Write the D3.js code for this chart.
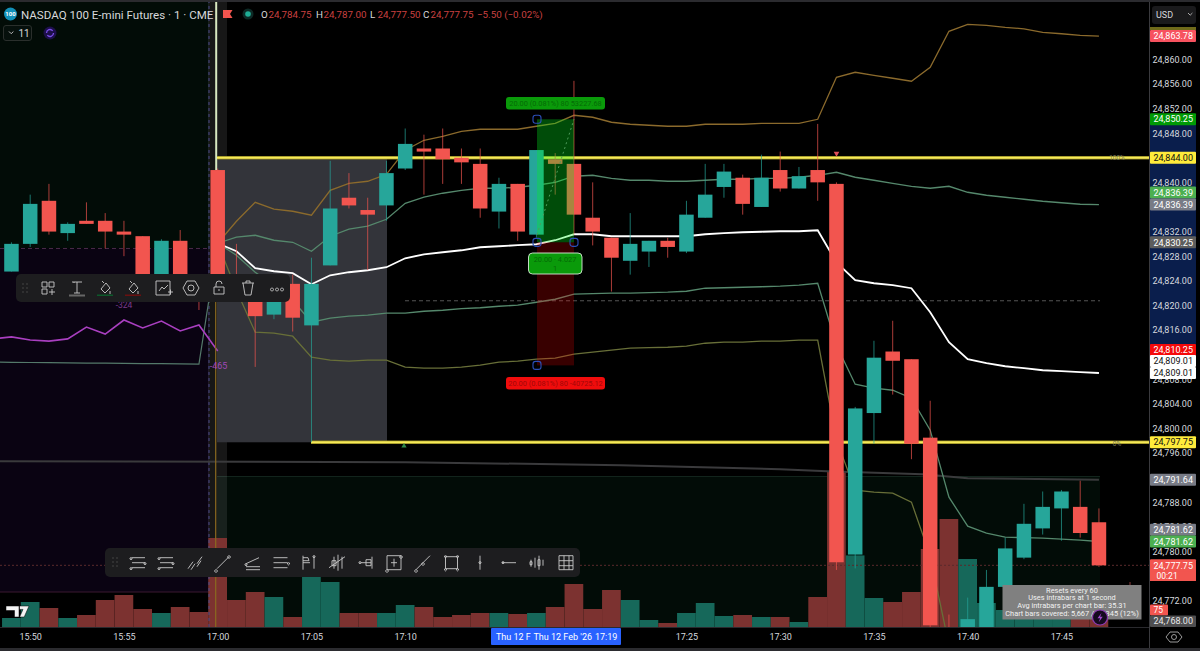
<!DOCTYPE html>
<html><head><meta charset="utf-8">
<script src="https://cdn.jsdelivr.net/npm/d3@7/dist/d3.min.js"></script>
<style>html,body{margin:0;padding:0;background:#000;overflow:hidden}text{font-family:Roboto,"Liberation Sans",sans-serif}</style>
</head><body><svg id="c" width="1200" height="651"></svg>
<script>
const firstBar=-11;
const opens=[24825.5,24830,24837,24831.75,24833.75,24833.75,24832,24831.25,24824.75,24830.5,24824.5,24842,24824.75,24822.5,24818.5,24823.5,24816.75,24826.5,24837.5,24835.5,24836.25,24842.25,24845.5,24845.5,24844,24843,24835.25,24839.75,24831.5,24843.75,24843,24834.25,24831,24827.25,24828.75,24830.5,24828.75,24834.25,24839.25,24840.75,24836,24842,24839,24842,24839.75,24779.5,24802.5,24812.5,24811.25,24798.5,24766.75,24766,24767,24774.25,24779,24783.75,24787,24787.25,24784.75];
const highs=[24830.25,24838,24839.75,24833.5,24836.75,24835,24833.75,24831.25,24830.75,24832.25,24825,24842.25,24830,24823.5,24823,24825,24827.75,24843.5,24841.5,24837.5,24843.5,24848.75,24847.75,24848.75,24845.5,24845.5,24840.75,24839.75,24845.25,24844.75,24856.5,24840,24831,24835,24830.5,24831,24837,24843,24843,24841.25,24844.5,24845,24842.5,24849.5,24840,24803.5,24814.25,24817.5,24811.25,24804.5,24769.75,24772.5,24777,24782.25,24787.75,24789.75,24790,24791.5,24787];
const lows=[24825.5,24829.5,24831.5,24830.5,24833.25,24829.25,24828,24823.5,24824.5,24823.75,24819.25,24821.5,24821,24810,24817.75,24815.75,24797.75,24826.5,24835.75,24825.75,24833.75,24842,24838,24839.75,24839.75,24834.25,24832.5,24830.5,24831,24838,24831.5,24829.75,24822.25,24825,24826.25,24827.75,24828.5,24834.25,24837.5,24834.75,24836,24838.5,24839,24837,24777,24777.25,24797.5,24805.5,24795,24767,24764,24765,24766,24774,24778.75,24782.75,24781.75,24782.25,24777.5];
const closes=[24830,24836.5,24832,24833.25,24833.25,24832,24831.5,24824,24830.5,24824,24821.75,24821.75,24821.5,24818.25,24822.5,24818,24823.5,24835.75,24836.25,24834.75,24841.5,24846.25,24845,24843.75,24843.25,24835.75,24839.75,24832,24845.25,24843,24834.75,24832,24827.75,24830,24830.5,24829.5,24834.75,24838,24841.75,24836.5,24840.75,24839,24841,24840,24778.25,24803.25,24811.5,24811,24797.5,24768,24765,24769,24774.25,24780.5,24784.5,24787.25,24789.75,24783,24777.75];
const volumes=[90,250,190,90,120,270,320,180,140,200,150,890,270,350,300,100,520,450,140,140,140,220,200,100,120,140,140,130,140,200,430,180,370,270,70,40,140,240,110,120,100,100,50,300,1550,716,290,250,350,780,1080,680,240,170,200,230,210,310,200];
const vwap=[24830.10,24828.80,24826.04,24825.55,24825.23,24823.44,24824.90,24825.39,24825.71,24826.20,24827.66,24828.31,24828.64,24828.96,24829.45,24829.61,24829.78,24829.94,24830.59,24831.56,24831.56,24831.24,24831.24,24831.24,24831.24,24831.24,24831.56,24831.73,24831.89,24831.97,24832.05,24832.05,24832.21,24827.0,24824.09,24823.6,24823.28,24822.79,24818.89,24814.02,24811.25,24810.6,24810.11,24809.79,24809.46,24809.3,24809.14,24809.01];
const upper2=[24830.10,24833.68,24836.76,24835.63,24835.3,24834.65,24838.71,24839.85,24840.18,24841.31,24845.21,24846.84,24847.49,24848.30,24848.63,24848.63,24848.63,24849.12,24849.6,24850.9,24850.58,24849.77,24849.44,24849.28,24849.12,24849.12,24849.44,24849.44,24849.44,24849.6,24849.6,24849.6,24850.25,24857.08,24857.89,24857.4,24856.92,24856.43,24858.70,24864.55,24865.69,24865.53,24865.2,24864.96,24864.39,24864.15,24863.9,24863.78];
const upper1=[24830.10,24831.08,24831.4,24830.59,24830.26,24828.8,24831.24,24832.38,24832.87,24834.0,24836.6,24837.58,24838.23,24838.71,24839.04,24839.04,24839.2,24839.53,24840.01,24840.99,24841.15,24840.66,24840.34,24840.34,24840.18,24840.18,24840.34,24840.5,24840.5,24840.66,24840.66,24840.83,24841.15,24841.64,24840.83,24840.34,24839.85,24839.36,24839.04,24839.36,24838.39,24837.9,24837.58,24837.25,24836.93,24836.68,24836.44,24836.39];
const lower1=[24830.10,24828.15,24825.39,24823.28,24820.84,24817.27,24817.92,24818.24,24818.41,24818.73,24818.73,24819.05,24819.21,24819.46,24819.62,24819.86,24820.03,24820.51,24821.0,24821.82,24821.9,24821.98,24821.98,24822.06,24822.14,24822.3,24822.79,24822.87,24822.95,24823.03,24823.12,24823.28,24823.6,24813.53,24807.19,24806.54,24806.21,24804.91,24799.72,24788.83,24784.11,24782.98,24782.33,24782.25,24782.17,24782.0,24781.84,24781.62];
const lower2=[24830.10,24822.47,24815.64,24815.48,24814.99,24811.58,24811.09,24810.93,24811.09,24811.09,24809.95,24809.79,24809.79,24809.95,24810.28,24810.77,24810.93,24811.25,24811.42,24812.07,24812.39,24812.72,24813.04,24813.12,24813.2,24813.37,24813.85,24814.02,24814.02,24814.18,24814.18,24814.34,24814.34,24798.09,24789.97,24789.64,24789.48,24788.02,24779.24,24764.78,24759.09];
const slowIdx=[-12,10,21.5,30,32.5,37.6,40,47];
const slowLine=[24794.68,24794.51,24794.03,24793.38,24793.05,24792.57,24791.91,24791.64];
const prevBand=[24810.77,24810.75,24810.72,24810.7,24810.65,24810.62,24810.6,24810.58,24810.55,24810.52,24810.48,24810.44,24830.10];
const cvd=[-410,-401,-415,-420,-410,-356,-388,-324,-360,-329,-374,-347,-465];
const priceTicks=[24772,24780,24784,24788,24796,24800,24804,24808,24816,24820,24824,24828,24832,24840,24848,24852,24856,24860];
const timeIdx=[-10,-5,0,5,10,25,30,35,40,45];
const timeLabels=["15:50","15:55","17:00","17:05","17:10","17:25","17:30","17:35","17:40","17:45"];
const tagPrices=[24863.78,24850.25,24844,24836.39,24836.39,24830.25,24810.25,24809.01,24809.01,24797.75,24791.64,24781.62,24781.62,24777.75];
const tagShift=[0,0,0,-12,0,0,-15.3,-12,0,0,0,-11.7,0,0];
const tagFill=["#f7525f","#009a05","#ffeb3b","#4caf50","#787b86","#5d5d5d","#f50a0a","#ffffff","#ffffff","#ffeb3b","#787b86","#787b86","#4caf50","#f2554f"];
const tagInk=["#fff","#fff","#111","#fff","#fff","#fff","#fff","#111","#111","#111","#fff","#fff","#fff","#fff"];
const entryPrice=24830.25,targetPrice=24850.25,stopPrice=24810.25,highLevel=24844,lowLevel=24797.75,midDash=24820.75,sessionOpen=24829.25;
const infoLines=["Resets every 60","Uses intrabars at 1 second","Avg intrabars per chart bar: 35.31","Chart bars covered: 5,667 / 46,345 (12%)"];

const svg=d3.select("#c");
const x=d3.scaleLinear().domain([0,45]).range([217.7,1061.45]);
const y=d3.scaleLinear().domain([24860,24772]).range([59.3,600.7]);
const cvdY=d3.scaleLinear().domain([-324,-465]).range([320,351]);
const volY=d3.scaleLinear().domain([0,1000]).range([627,527]);
const bw=14.5;
const fmt=d3.format(",.2f");
const teal="#26a69a",red="#f2554f";
const bars=opens.map((o,i)=>({i:i+firstBar,o,h:highs[i],l:lows[i],c:closes[i],v:volumes[i]}));

const defs=svg.append("defs");
defs.append("clipPath").attr("id","pane").append("rect").attr("x",0).attr("y",2).attr("width",1149).attr("height",625);
svg.append("rect").attr("width",1200).attr("height",651).attr("fill","#000");
const pane=svg.append("g").attr("clip-path","url(#pane)");
// session backdrops
pane.append("rect").attr("x",0).attr("y",0).attr("width",209).attr("height",y(sessionOpen)).attr("fill","#020c07");
pane.append("rect").attr("x",0).attr("y",y(sessionOpen)).attr("width",209).attr("height",592-y(sessionOpen)).attr("fill","#0a0312");
pane.append("rect").attr("x",217).attr("y",476).attr("width",883).attr("height",151).attr("fill","#020c07");
pane.append("line").attr("x1",217).attr("x2",1100).attr("y1",476.5).attr("y2",476.5).attr("stroke","#12241c");
pane.append("line").attr("x1",0).attr("x2",209).attr("y1",592).attr("y2",592).attr("stroke","#3a1830");
pane.append("line").attr("x1",0).attr("x2",209).attr("y1",y(sessionOpen)).attr("y2",y(sessionOpen)).attr("stroke","#4a2a4a").attr("stroke-dasharray","4 3");
// hover column
pane.append("rect").attr("x",208).attr("y",0).attr("width",19).attr("height",627).attr("fill","rgba(255,255,255,.09)");
// gray box
pane.append("rect").attr("x",217).attr("y",y(highLevel)).attr("width",170).attr("height",y(lowLevel)-y(highLevel)).attr("fill","#33343a");
// volume
pane.append("g").selectAll("rect").data(bars).join("rect")
 .attr("x",d=>x(d.i)-9.4).attr("width",18.7).attr("y",d=>volY(d.v)).attr("height",d=>627-volY(d.v))
 .attr("fill",d=>d.c>=d.o?"#16685a":"#7c3230");
// dashed rules
pane.append("line").attr("x1",405).attr("x2",1100).attr("y1",y(midDash)).attr("y2",y(midDash)).attr("stroke","#555").attr("stroke-dasharray","4 3");
pane.append("line").attr("x1",0).attr("x2",1149).attr("y1",y(24777.75)).attr("y2",y(24777.75)).attr("stroke","#5a2a2c").attr("stroke-dasharray","2 2");
pane.append("line").attr("x1",209).attr("x2",209).attr("y1",0).attr("y2",627).attr("stroke","#4a4a8a").attr("stroke-dasharray","3 3");
// lines
const ln=(arr,start=0)=>d3.line().x((d,i)=>x(i+start)).y(d=>y(d))(arr);
const slow=d3.line().x((d,i)=>x(slowIdx[i])).y(d=>y(d));
pane.append("path").attr("d",slow(slowLine)).attr("fill","none").attr("stroke","#3a3a3c").attr("stroke-width",2);
pane.append("path").attr("d",ln(prevBand,-12)).attr("fill","none").attr("stroke","#54796a").attr("stroke-width",1.2);
pane.append("path").attr("d",d3.line().x((d,i)=>x(i-12)).y(d=>cvdY(d))(cvd)).attr("fill","none").attr("stroke","#a93fc0").attr("stroke-width",1.6);
pane.append("line").attr("x1",x(0)-2).attr("x2",x(0)-2).attr("y1",240).attr("y2",627).attr("stroke","#8a6a20").attr("stroke-width",1.2);
[[upper2,"#8b6a2c"],[upper1,"#55886c"],[lower1,"#55886c"],[lower2,"#686f38"]].forEach(([a,c])=>pane.append("path").attr("d",ln(a)).attr("fill","none").attr("stroke",c).attr("stroke-width",1.3));
pane.append("path").attr("d",ln(vwap)).attr("fill","none").attr("stroke","#fff").attr("stroke-width",1.8);
pane.append("line").attr("x1",x(0)-1.5).attr("x2",x(0)-1.5).attr("y1",2).attr("y2",170).attr("stroke","#d8e8c0").attr("stroke-width",2);
// levels
[[highLevel,217],[lowLevel,311]].forEach(([p,s])=>{
 pane.append("line").attr("x1",s).attr("x2",1149).attr("y1",y(p)).attr("y2",y(p)).attr("stroke","#8f8420").attr("stroke-width",3.4);
 pane.append("line").attr("x1",s).attr("x2",1149).attr("y1",y(p)).attr("y2",y(p)).attr("stroke","#f6ea58").attr("stroke-width",1.9);
});
// candles
const cg=pane.append("g");
cg.selectAll("line").data(bars).join("line").attr("x1",d=>x(d.i)).attr("x2",d=>x(d.i)).attr("y1",d=>y(d.h)).attr("y2",d=>y(d.l)).attr("stroke",d=>d.c>=d.o?teal:red).attr("stroke-width",1).attr("opacity",.7);
cg.selectAll("rect").data(bars).join("rect").attr("x",d=>x(d.i)-bw/2).attr("width",bw).attr("y",d=>y(Math.max(d.o,d.c))).attr("height",d=>Math.max(1.2,Math.abs(y(d.o)-y(d.c)))).attr("fill",d=>d.c>=d.o?teal:red);
// position box
const bx0=537,bx1=574;
pane.append("rect").attr("x",bx0).attr("width",bx1-bx0).attr("y",y(targetPrice)).attr("height",y(entryPrice)-y(targetPrice)).attr("fill","rgba(0,245,30,.31)");
pane.append("rect").attr("x",bx0).attr("width",bx1-bx0).attr("y",y(entryPrice)).attr("height",y(stopPrice)-y(entryPrice)).attr("fill","rgba(255,0,0,.22)");
pane.append("line").attr("x1",bx0).attr("x2",bx1).attr("y1",y(24831.5)).attr("y2",y(targetPrice)).attr("stroke","#4d9a5a").attr("stroke-dasharray","2 3");
const pill=(px,py,w,h,fill,txt,ink,fs,r=3)=>{pane.append("rect").attr("x",px).attr("y",py).attr("width",w).attr("height",h).attr("rx",r).attr("fill",fill);
 pane.append("text").attr("x",px+w/2).attr("y",py+h/2+2.5).attr("text-anchor","middle").attr("font-size",fs).attr("fill",ink).text(txt);};
pill(506,97,99,12.5,"#0a9a0a","20.00 (0.081%) 80 53227.68","#056a06",7.4);
pill(506,377,99,12.5,"#f00c0c","20.00 (0.081%) 80 -40725.12","#a00808",7.4);
pane.append("rect").attr("x",528.5).attr("y",253).attr("width",53.5).attr("height",21).attr("rx",4).attr("fill","#0a9a0a").attr("stroke","#d8e8d8").attr("stroke-width",.9);
pane.append("text").attr("x",555).attr("y",262).attr("text-anchor","middle").attr("font-size",7.4).attr("fill","#056a06").text("20.00 · 4.027");
pane.append("text").attr("x",555).attr("y",270.5).attr("text-anchor","middle").attr("font-size",7.4).attr("fill","#056a06").text("1");
[[bx0,targetPrice],[bx0,entryPrice],[bx1,entryPrice],[bx0,stopPrice]].forEach(([hx,p])=>pane.append("rect").attr("x",hx-4).attr("y",y(p)-4).attr("width",8).attr("height",8).attr("rx",2.5).attr("fill","none").attr("stroke","#2c4fb8").attr("stroke-width",1.1));
// markers
pane.append("path").attr("d",d3.symbol(d3.symbolTriangle,14)()).attr("transform",`translate(836.5,153.5) rotate(180)`).attr("fill","#e0505a");
pane.append("path").attr("d",d3.symbol(d3.symbolTriangle,12)()).attr("transform",`translate(404,446)`).attr("fill","#2f8a4a");
pane.append("text").attr("x",124).attr("y",308).attr("text-anchor","middle").attr("font-size",8.5).attr("fill","#7a3a8a").text("-324");
pane.append("text").attr("x",218.5).attr("y",369).attr("text-anchor","middle").attr("font-size",9).attr("fill","#a048b8").text("-465");
pane.append("text").attr("x",1117).attr("y",160).attr("text-anchor","middle").attr("font-size",6.5).attr("fill","#7a7a58").text("100%");
pane.append("text").attr("x",1117).attr("y",445.5).attr("text-anchor","middle").attr("font-size",6.5).attr("fill","#7a7a58").text("0%");
pane.append("line").attr("x1",1130).attr("x2",1130).attr("y1",582).attr("y2",587).attr("stroke","#8a3a3a");

// info box
svg.append("rect").attr("x",1002.5).attr("y",585).attr("width",139).attr("height",34.5).attr("fill","#808080");
infoLines.forEach((t,i)=>svg.append("text").attr("x",1072).attr("y",592.5+i*7.7).attr("text-anchor","middle").attr("font-size",7.4).attr("fill","#f2f2f2").text(t));
svg.append("circle").attr("cx",1100).attr("cy",617.5).attr("r",7.5).attr("fill","#140a1e").attr("stroke","#8a3ab0").attr("stroke-width",1.2);
svg.append("path").attr("d","M1101.5 613l-4 5.2h2.6l-1.4 4 4-5.4h-2.6z").attr("fill","#a24ad0");
// TV logo
svg.append("path").attr("d","M6 606h13v11h-4.5v-6.5H6zM19.5 606h9.5l-4.8 11h-4.6l3.4-7.6h-3.5z").attr("fill","#f4f4f4").attr("stroke","#000").attr("stroke-width",.5);

// toolbars
const stroke="#c9c9c9";
const icon=(g,cx,cy,d)=>g.append("path").attr("transform",`translate(${cx},${cy})`).attr("d",d).attr("fill","none").attr("stroke",stroke).attr("stroke-width",.9);
const tb1=svg.append("g");
tb1.append("rect").attr("x",16).attr("y",274).attr("width",274).attr("height",28).attr("rx",5).attr("fill","#1d1d1f");
d3.range(3).forEach(r=>[0,1].forEach(c=>tb1.append("circle").attr("cx",23+c*4).attr("cy",284+r*4).attr("r",.7).attr("fill","#555")));
const icons1=[[48,"M-6-6h5v5h-5zM1-6h5v5h-5zM-6 1h5v5h-5zM1 4h6M4 1v6"],[77,"M-5-6H5M0-6V5M-3-6V-5M-3 5H3"],[105,"M-4 1L1-5L5 0L0 5ZM-1-5L-3-7M5 3v3"],[133,"M-4 1L1-5L5 0L0 5ZM-1-5L-3-7M5 3v3"],[163,"M-7-7H7V7H-7ZM-4 3L-1-1L1 1L5-3M5 4h5M7.5 1.5v5"],[191,"M-4-7H4L8 0L4 7H-4L-8 0ZM3 0A3 3 0 1 1-3 0A3 3 0 1 1 3 0"],[219,"M-5-1H5V6H-5ZM-3-1V-4A3 3 0 0 1 3-4M0 1V3"],[248,"M-6-5H6M-2-5V-7H2V-5M-5-5L-3 7H3L5-5"],[277,"M-5 0a1.5 1.5 0 1 0 0.01 0M0 0a1.5 1.5 0 1 0 0.01 0M5 0a1.5 1.5 0 1 0 0.01 0"]];
icons1.forEach(([cx,d])=>icon(tb1,cx,288,d));
tb1.append("rect").attr("x",69).attr("y",294.5).attr("width",16).attr("height",2).attr("fill","#666");
tb1.append("rect").attr("x",97).attr("y",294.5).attr("width",16).attr("height",1.5).attr("fill","#0c5a2a");
tb1.append("rect").attr("x",125).attr("y",294.5).attr("width",16).attr("height",1.5).attr("fill","#6a1010");
const tb2=svg.append("g");
tb2.append("rect").attr("x",105).attr("y",548).attr("width",475).attr("height",29).attr("rx",5).attr("fill","#1d1d1f");
d3.range(3).forEach(r=>[0,1].forEach(c=>tb2.append("circle").attr("cx",113+c*4).attr("cy",558+r*4).attr("r",.7).attr("fill","#555")));
const lines3="M-6-5H7M-6 0H7M-6 5H7";
const icons2=[[138,lines3+"M-7-5a1 1 0 1 0 .01 0M7 0a1 1 0 1 0 .01 0M-7 5a1 1 0 1 0 .01 0"],[166,lines3+"M-7-5a1 1 0 1 0 .01 0M7 0a1 1 0 1 0 .01 0M-7 5a1 1 0 1 0 .01 0"],[195,"M-7 6L-2-1M2 1L7-6M-4 7L0 1M2 4L6-2"],[223,"M-6 6L6-6M-7 7a1.3 1.3 0 1 0 .01 0M6-7a1.3 1.3 0 1 0 .01 0"],[253,"M-7 1L6-5M-7 4H7M-7 7H7M-7 1a1 1 0 1 0 .01 0"],[280.5,"M-7-5H7M-7 0H7M-7 5H7M8 0a1 1 0 1 0 .01 0"],[308,"M-5-7V7M-5-5H0L1-2H-5M-5 0H2M6-6V6M6-7a1 1 0 1 0 .01 0"],[337,"M-3-6V6M1-8V8M5-6V6M-5-2H-1V3H-5ZM-8 5L8-6"],[367,"M5-6V6M-7-1a1 1 0 1 0 .01 0M-6 0H4M-1-3H4V3H-1Z"],[394,"M-7-7H7V7H-7ZM0-4V4M-3 0H3M7-7a1.3 1.3 0 1 0 .01 0M-7 7a1.3 1.3 0 1 0 .01 0"],[423,"M-7 7L7-7M-7 7a1.3 1.3 0 1 0 .01 0M0 0a1.3 1.3 0 1 0 .01 0"],[451.5,"M-6-6H6V6H-6ZM-6-7a1 1 0 1 0 .01 0M6-7a1 1 0 1 0 .01 0M-6 6a1 1 0 1 0 .01 0M6 6a1 1 0 1 0 .01 0"],[480,"M0-7V7M0-1a1 1 0 1 0 .01 0"],[509,"M-7 0H7M-6-1a1 1 0 1 0 .01 0"],[537,"M-6-3V4M-2-5V5M2-7V7M6-3V3M-7-1h2v3h-2zM1-3h2v6h-2z"],[566,"M-7-7H7V7H-7ZM-7-2H7M-7 3H7M-2-7V7M3-7V7"]];
icons2.forEach(([cx,d])=>icon(tb2,cx,562.7,d));

// price axis
svg.append("rect").attr("x",1149).attr("y",0).attr("width",51).attr("height",651).attr("fill","#000");
svg.append("rect").attr("x",1150).attr("y",y(targetPrice)).attr("width",46).attr("height",y(stopPrice)-y(targetPrice)).attr("fill","#0a1e4c");
const pa=svg.append("g").attr("transform","translate(1149,0)").call(d3.axisRight(y).tickValues(priceTicks).tickFormat(fmt).tickSize(0));
pa.select(".domain").remove();
pa.selectAll("text").attr("x",43).attr("text-anchor","end").attr("font-size",9).attr("fill","#d6d8de");
svg.append("line").attr("x1",1149.5).attr("x2",1149.5).attr("y1",0).attr("y2",651).attr("stroke","#3a3a3e");
svg.append("rect").attr("x",1150).attr("y",27).attr("width",46).attr("height",3).attr("fill","#6f6a1a");
svg.append("rect").attr("x",1150).attr("y",566).attr("width",46).attr("height",15).attr("fill",red);
tagPrices.forEach((p,i)=>{const cy=y(p)+tagShift[i];
 svg.append("rect").attr("x",1150).attr("y",cy-6).attr("width",46).attr("height",12).attr("rx",1).attr("fill",tagFill[i]);
 svg.append("text").attr("x",1193).attr("y",cy+3.2).attr("text-anchor","end").attr("font-size",9).attr("fill",tagInk[i]).text(fmt(p));});
svg.append("text").attr("x",1156.5).attr("y",578.5).attr("font-size",8.5).attr("fill","#fff").text("00:21");
svg.append("rect").attr("x",1150).attr("y",604.5).attr("width",18).attr("height",11).attr("rx",1).attr("fill",red);
svg.append("text").attr("x",1153.5).attr("y",613).attr("font-size",8.5).attr("fill","#fff").text("75");
svg.append("rect").attr("x",1150).attr("y",615.5).attr("width",46).attr("height",11.5).attr("rx",1).attr("fill","#4e4e50");
svg.append("text").attr("x",1193).attr("y",624).attr("text-anchor","end").attr("font-size",9).attr("fill","#e8e8e8").text("24,768.00");
svg.append("rect").attr("x",1152).attr("y",6).attr("width",44).attr("height",18).attr("rx",3).attr("fill","#1a1a1c");
svg.append("text").attr("x",1156).attr("y",18).attr("font-size",9).attr("fill","#d6d8de").text("USD");
svg.append("path").attr("d","M1188 13l2.2 2.2 2.2-2.2").attr("fill","none").attr("stroke","#aaa");
svg.append("path").attr("d","M1170 632h8l4 5-4 5h-8l-4-5zM1176.5 637a2.5 2.5 0 1 1-5 0a2.5 2.5 0 1 1 5 0").attr("fill","none").attr("stroke","#aaa").attr("stroke-width",.9);

// time axis
svg.append("line").attr("x1",0).attr("x2",1149).attr("y1",627.5).attr("y2",627.5).attr("stroke","#2a2a2e");
const ta=svg.append("g").attr("transform","translate(0,627)").call(d3.axisBottom(x).tickValues(timeIdx).tickFormat((d,i)=>timeLabels[i]).tickSize(0));
ta.select(".domain").remove();
ta.selectAll("text").attr("y",6.5).attr("font-size",9).attr("fill","#d6d8de");
svg.append("rect").attr("x",491).attr("y",628).attr("width",130).attr("height",17).attr("rx",1).attr("fill","#2962ff");
[["Thu 12 F",496],["Thu 12 Feb '26",533.5],["17:19",595]].forEach(([t,tx])=>svg.append("text").attr("x",tx).attr("y",640).attr("font-size",9).attr("fill","#fff").text(t));
svg.append("rect").attr("x",0).attr("y",648).attr("width",1200).attr("height",3).attr("fill","#2b2b2f");
svg.append("rect").attr("x",0).attr("y",0).attr("width",1200).attr("height",2).attr("fill","#2b2b2f");

// header
const h=svg.append("g");
h.append("circle").attr("cx",10.5).attr("cy",14).attr("r",6.5).attr("fill","#1290b8");
h.append("text").attr("x",10.5).attr("y",16).attr("text-anchor","middle").attr("font-size",6).attr("font-weight",700).attr("fill","#fff").text("100");
h.append("text").attr("x",21).attr("y",18.5).attr("font-size",11.55).attr("fill","#d8d8da").text("NASDAQ 100 E-mini Futures · 1 · CME");
h.append("path").attr("d","M223 10h9.5l-2.5 4 2.5 4H223z").attr("fill",red);
h.append("circle").attr("cx",248).attr("cy",14).attr("r",5.5).attr("fill","#0d2a26");
h.append("circle").attr("cx",248).attr("cy",14).attr("r",2.8).attr("fill","#1fae96");
[["O","24,784.75",261],["H","24,787.00",316],["L","24,777.50",370],["C","24,777.75",423]].forEach(([k,v,px])=>{
 h.append("text").attr("x",px).attr("y",18).attr("font-size",9.8).attr("fill","#d8d8da").text(k);
 h.append("text").attr("x",px+7.5).attr("y",18).attr("font-size",9.8).attr("fill","#c94040").text(v);});
h.append("text").attr("x",477).attr("y",18).attr("font-size",9.8).attr("fill","#c94040").text("−5.50 (−0.02%)");
h.append("rect").attr("x",3.5).attr("y",25.5).attr("width",28).attr("height",15).attr("rx",2.5).attr("fill","#06100c").attr("stroke","#2a2f2c");
h.append("path").attr("d","M9 31.5l2.2 2.2 2.2-2.2").attr("fill","none").attr("stroke","#bbb");
h.append("text").attr("x",18.5).attr("y",37).attr("font-size",10).attr("fill","#d8d8da").text("11");
h.append("circle").attr("cx",50).attr("cy",33).attr("r",6.5).attr("fill","#1d0f4a");
h.append("path").attr("d","M46.5 33a3.5 3.5 0 0 1 6.2-2.2M53.5 33a3.5 3.5 0 0 1-6.2 2.2").attr("fill","none").attr("stroke","#7a4de8").attr("stroke-width",1.3);
</script></body></html>
